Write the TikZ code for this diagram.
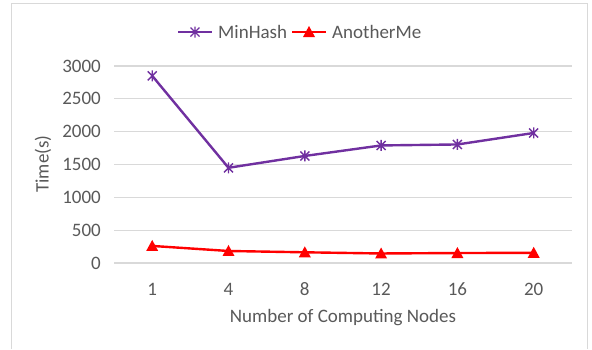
\documentclass[tikz,border=0pt]{standalone}
\usepackage{fontspec}
\setmainfont{Carlito}
\begin{document}
\begin{tikzpicture}[x=1pt,y=-1pt,
  lbl/.style={font=\fontsize{19}{21}\selectfont, text=txtgray, inner sep=0pt},
  grid/.style={draw=gridgray, line width=1.2pt},
  mh/.style={draw=mhpurple, line width=2.4pt, line join=round},
  am/.style={draw=amred, line width=2.4pt, line join=round},
  starmark/.style={draw=mhpurple, line width=1.4pt},
  trimark/.style={fill=amred, draw=none}]
\definecolor{txtgray}{HTML}{595959}
\definecolor{gridgray}{HTML}{D9D9D9}
\definecolor{mhpurple}{HTML}{7030A0}
\definecolor{amred}{HTML}{FF0000}
\useasboundingbox (0,0) rectangle (592,349);
% outer frame
\draw[gridgray, line width=1pt] (11.5,349) -- (11.5,3.5) -- (587.5,3.5) -- (587.5,349);
% gridlines and y labels
\foreach \v in {0,500,...,3000}{
  \pgfmathsetmacro{\yy}{263-\v*0.06567}
  \draw[grid] (114,\yy) -- (572,\yy);
  \node[lbl, anchor=east] (yl\v) at (101,\yy) {\v};
}
% x labels
\foreach \lab [count=\i] in {1,4,8,12,16,20}{
  \pgfmathsetmacro{\xx}{152.2+(\i-1)*76.3}
  \node[lbl] (xl\i) at (\xx,289) {\lab};
}
% axis titles
\node[lbl] (xtitle) at (343,318) {Number of Computing Nodes};
\node[lbl, rotate=90] (ytitle) at (43,164) {Time(s)};
% data coordinates
\foreach \v [count=\i] in {2850,1450,1630,1790,1805,1980}{
  \pgfmathsetmacro{\xx}{152.2+(\i-1)*76.3}
  \pgfmathsetmacro{\yy}{263-\v*0.06567}
  \coordinate (m\i) at (\xx,\yy);
}
\foreach \v [count=\i] in {260,183,163,145,152,155}{
  \pgfmathsetmacro{\xx}{152.2+(\i-1)*76.3}
  \pgfmathsetmacro{\yy}{263-\v*0.06567}
  \coordinate (a\i) at (\xx,\yy);
}
\draw[mh] (m1) -- (m2) -- (m3) -- (m4) -- (m5) -- (m6);
\draw[am] (a1) -- (a2) -- (a3) -- (a4) -- (a5) -- (a6);
\foreach \i in {1,...,6}{
  \draw[starmark] ([shift={(-4.5,-4.5)}]m\i) -- ([shift={(4.5,4.5)}]m\i)
                  ([shift={(-4.5,4.5)}]m\i) -- ([shift={(4.5,-4.5)}]m\i)
                  ([shift={(0,-5.5)}]m\i) -- ([shift={(0,5.5)}]m\i);
  \fill[amred] ([shift={(-6,5)}]a\i) -- ([shift={(6,5)}]a\i) -- ([shift={(0,-6)}]a\i) -- cycle;
}
% legend
\coordinate (lm1) at (178,32);
\coordinate (lm2) at (212,32);
\coordinate (lmc) at (195,32);
\draw[mh] (lm1) -- (lm2);
\draw[starmark] ([shift={(-4.5,-4.5)}]lmc) -- ([shift={(4.5,4.5)}]lmc)
                ([shift={(-4.5,4.5)}]lmc) -- ([shift={(4.5,-4.5)}]lmc)
                ([shift={(0,-5.5)}]lmc) -- ([shift={(0,5.5)}]lmc);
\node[lbl, anchor=west] (legmh) at (218,32) {MinHash};
\coordinate (la1) at (292,32);
\coordinate (la2) at (326,32);
\coordinate (lac) at (309,32);
\draw[am] (la1) -- (la2);
\fill[amred] ([shift={(-6,5)}]lac) -- ([shift={(6,5)}]lac) -- ([shift={(0,-6)}]lac) -- cycle;
\node[lbl, anchor=west] (legam) at (332,32) {AnotherMe};
\end{tikzpicture}
\end{document}
